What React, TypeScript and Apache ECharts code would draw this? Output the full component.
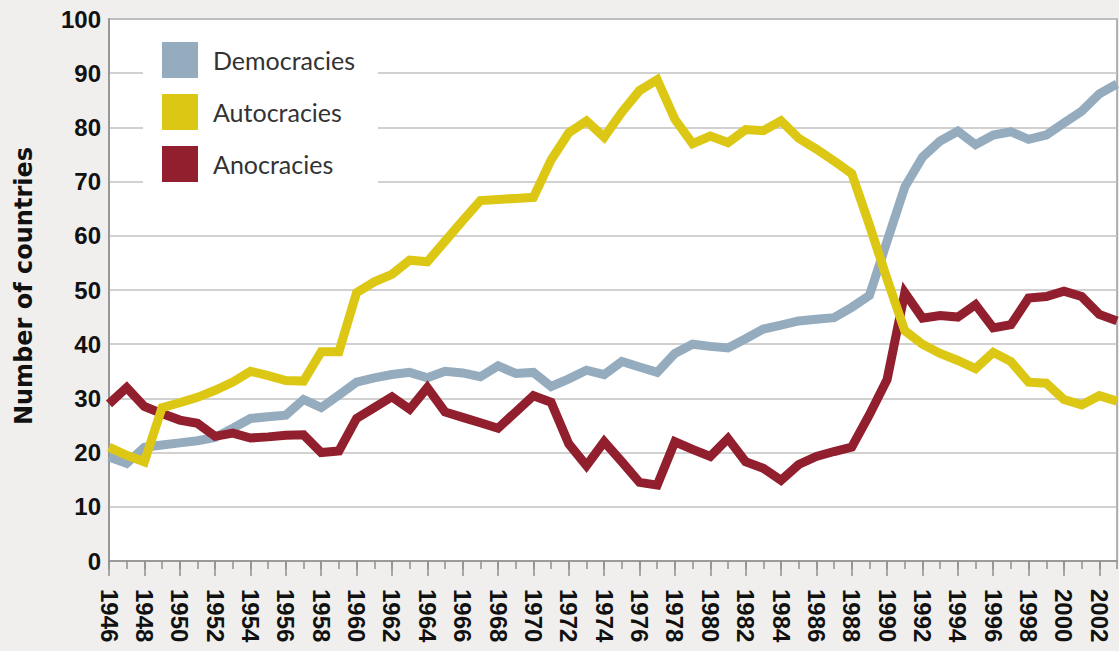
import React, { useEffect, useRef } from "react";
import * as echarts from "echarts";

const years = [
  1946, 1947, 1948, 1949, 1950, 1951, 1952, 1953, 1954, 1955,
  1956, 1957, 1958, 1959, 1960, 1961, 1962, 1963, 1964, 1965,
  1966, 1967, 1968, 1969, 1970, 1971, 1972, 1973, 1974, 1975,
  1976, 1977, 1978, 1979, 1980, 1981, 1982, 1983, 1984, 1985,
  1986, 1987, 1988, 1989, 1990, 1991, 1992, 1993, 1994, 1995,
  1996, 1997, 1998, 1999, 2000, 2001, 2002, 2003,
];

const democracies = [
  19.2, 18.0, 21.0, 21.4, 21.8, 22.2, 22.8, 24.5, 26.3, 26.6,
  26.9, 29.8, 28.3, 30.6, 33.0, 33.8, 34.4, 34.8, 33.8, 35.0,
  34.7, 34.0, 36.0, 34.6, 34.8, 32.2, 33.6, 35.2, 34.4, 36.8,
  35.8, 34.8, 38.3, 40.0, 39.6, 39.3, 41.0, 42.8, 43.5, 44.3,
  44.6, 44.9, 46.8, 49.0, 59.0, 69.0, 74.5, 77.5, 79.3, 76.8,
  78.6, 79.2, 77.8, 78.6, 80.8, 83.0, 86.2, 88.0,
];

const autocracies = [
  21.0, 19.5, 18.3, 28.3, 29.2, 30.2, 31.5, 33.0, 35.0, 34.2,
  33.3, 33.2, 38.6, 38.6, 49.5, 51.5, 52.9, 55.5, 55.2, 59.0,
  62.8, 66.5, 66.7, 66.9, 67.1, 74.0, 79.0, 81.2, 78.2, 82.8,
  86.8, 88.8, 81.5, 77.0, 78.4, 77.2, 79.6, 79.4, 81.2, 78.0,
  76.0, 73.8, 71.5, 62.0, 52.0, 42.5, 40.0, 38.3, 37.0, 35.5,
  38.5, 36.8, 33.0, 32.8, 29.8, 28.8, 30.5, 29.5,
];

const anocracies = [
  29.0, 32.0, 28.5, 27.2, 26.0, 25.4, 23.0, 23.6, 22.7, 22.9,
  23.2, 23.3, 20.0, 20.3, 26.3, 28.3, 30.3, 28.0, 32.0, 27.5,
  26.5, 25.5, 24.5, 27.5, 30.5, 29.3, 21.6, 17.6, 22.0, 18.3,
  14.5, 14.0, 22.0, 20.6, 19.3, 22.6, 18.3, 17.1, 14.9, 17.8,
  19.3, 20.2, 21.0, 27.0, 33.5, 49.5, 44.8, 45.3, 45.0, 47.3,
  43.0, 43.6, 48.5, 48.8, 49.8, 48.8, 45.5, 44.3,
];

const seriesNames = ["Democracies", "Autocracies", "Anocracies"];
const seriesColors = { Democracies: "#95acbf", Autocracies: "#dcc814", Anocracies: "#921f2d" };
const yAxisTitle = "Number of countries";

export default function App() {
  const ref = useRef<HTMLDivElement>(null);

  useEffect(() => {
    if (!ref.current) return;
    const chart = echarts.init(ref.current, null, { renderer: "svg" });
    const pairs = (vals: number[]) => years.map((y, i) => [y, vals[i]]);
    const mkSeries = (name: string, vals: number[]) => ({
      name,
      type: "line",
      data: pairs(vals),
      xAxisIndex: 0,
      yAxisIndex: 0,
      symbol: "none",
      showSymbol: false,
      lineStyle: { width: 9, color: (seriesColors as any)[name], join: "miter" },
      itemStyle: { color: (seriesColors as any)[name] },
    });
    const tickColor = "#8f8f8f";
    chart.setOption({
      animation: false,
      backgroundColor: "#f0efed",
      grid: {
        left: 109,
        top: 19,
        right: 2,
        bottom: 90,
        show: true,
        backgroundColor: "#ffffff",
        borderColor: "#9a9a9a",
        borderWidth: 1.5,
      },
      legend: {
        data: seriesNames,
        orient: "vertical",
        left: 143,
        top: 30,
        padding: [12, 23, 20, 19],
        backgroundColor: "#ffffff",
        itemWidth: 36,
        itemHeight: 36,
        itemGap: 16,
        icon: "rect",
        itemStyle: { borderWidth: 0 },
        selectedMode: false,
        textStyle: {
          fontFamily: "Lato",
          fontSize: 25,
          color: "#333333",
          padding: [0, 0, 0, 10],
        },
      },
      graphic: [
        {
          type: "text",
          x: 24,
          y: 286,
          rotation: Math.PI / 2,
          style: {
            text: yAxisTitle,
            font: "bold 24px 'DejaVu Sans'",
            fill: "#111111",
            textAlign: "center",
            textVerticalAlign: "middle",
          },
        },
      ],
      xAxis: [
        {
          type: "value",
          min: 1946,
          max: 2003,
          interval: 1,
          position: "bottom",
          axisLine: { show: true, lineStyle: { color: tickColor, width: 1.5 } },
          axisTick: { show: true, length: 8, lineStyle: { color: tickColor, width: 1.5 } },
          axisLabel: { show: false },
          splitLine: { show: false },
        },
        {
          type: "value",
          min: 1946,
          max: 2003,
          interval: 2,
          position: "bottom",
          axisLine: { show: false },
          axisTick: { show: true, length: 15, lineStyle: { color: tickColor, width: 1.5 } },
          axisLabel: {
            rotate: -90,
            margin: 28,
            fontFamily: "Liberation Sans",
            fontWeight: "bold",
            fontSize: 24,
            color: "#111111",
            showMaxLabel: false,
            formatter: (v: number) => String(v),
          },
          splitLine: { show: false },
        },
      ],
      yAxis: {
        type: "value",
        min: 0,
        max: 100,
        interval: 10,
        axisLine: { show: true, lineStyle: { color: tickColor, width: 1.5 } },
        axisTick: { show: false },
        axisLabel: {
          margin: 8,
          fontFamily: "Liberation Sans",
          fontWeight: "bold",
          fontSize: 24,
          color: "#111111",
        },
        splitLine: { show: true, lineStyle: { color: "#c2c2c2", width: 1.5 } },
      },
      series: [
        mkSeries("Democracies", democracies),
        mkSeries("Anocracies", anocracies),
        mkSeries("Autocracies", autocracies),
      ],
    });
    return () => chart.dispose();
  }, []);

  return (
    <div
      ref={ref}
      style={{ position: "absolute", left: 0, top: 0, width: 1119, height: 651 }}
    />
  );
}
